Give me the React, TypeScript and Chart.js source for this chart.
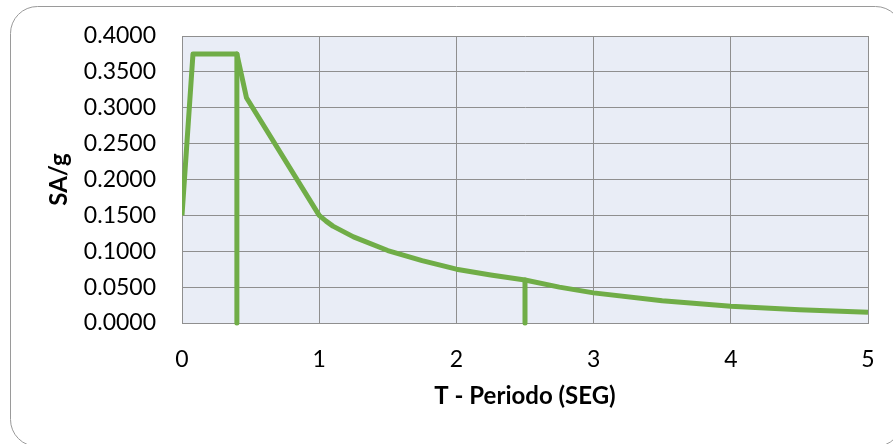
import { useEffect, useRef } from "react";
import { Chart, registerables } from "chart.js";

Chart.register(...registerables);

// Elastic design spectrum: period T (s) vs spectral acceleration SA/g
const periods = [0, 0.08, 0.4, 0.47, 1.0, 1.05, 1.1, 1.25, 1.5, 1.75, 2.0, 2.25, 2.5, 2.75, 3.0, 3.5, 4.0, 4.5, 5.0];
const saValues = [0.15, 0.375, 0.375, 0.314, 0.15, 0.142, 0.135, 0.12, 0.101, 0.087, 0.075, 0.067, 0.06, 0.05, 0.042, 0.031, 0.0235, 0.0185, 0.015];

// Vertical markers at the corner periods Tc and TL
const tcMarkerT = [0.4, 0.4];
const tcMarkerSa = [0, 0.375];
const tlMarkerT = [2.5, 2.5];
const tlMarkerSa = [0, 0.06];

// Axis ranges and tick steps
const xRange = [0, 5];
const xStep = 1;
const yRange = [0, 0.4];
const yStep = 0.05;

const xTitle = "T - Periodo (SEG)";
const yTitle = "SA/g";

const GREEN = "#70AD47";
const GRID = "#8f8f8f";
const FONT = "Lato";

const toPoints = (xs: number[], ys: number[]) => xs.map((x, i) => ({ x, y: ys[i] }));

const framePlugin = {
  id: "frame",
  beforeDraw(chart: Chart) {
    const { ctx, chartArea } = chart;
    ctx.save();
    ctx.fillStyle = "#ffffff";
    ctx.fillRect(0, 0, chart.width, chart.height);
    ctx.beginPath();
    (ctx as any).roundRect(10.5, 6.5, 892, 440, 27);
    ctx.strokeStyle = "#9a9a9a";
    ctx.lineWidth = 1;
    ctx.stroke();
    ctx.fillStyle = "#E9EDF6";
    ctx.fillRect(chartArea.left, chartArea.top, chartArea.right - chartArea.left, chartArea.bottom - chartArea.top);
    ctx.restore();
  },
};

export default function App() {
  const canvasRef = useRef<HTMLCanvasElement | null>(null);

  useEffect(() => {
    const canvas = canvasRef.current;
    if (!canvas) return;
    const chart = new Chart(canvas, {
      type: "scatter",
      data: {
        datasets: [
          {
            data: toPoints(periods, saValues),
            showLine: true,
            borderColor: GREEN,
            borderWidth: 5,
            pointRadius: 0,
            borderJoinStyle: "round",
          },
          {
            data: toPoints(tcMarkerT, tcMarkerSa),
            showLine: true,
            borderColor: GREEN,
            borderWidth: 5,
            pointRadius: 0,
            borderCapStyle: "round",
            clip: false,
          },
          {
            data: toPoints(tlMarkerT, tlMarkerSa),
            showLine: true,
            borderColor: GREEN,
            borderWidth: 5,
            pointRadius: 0,
            borderCapStyle: "round",
            clip: false,
          },
        ],
      },
      options: {
        animation: false,
        responsive: false,
        events: [],
        layout: { padding: { left: 10, top: 36, right: 25, bottom: 0 } },
        plugins: { legend: { display: false }, tooltip: { enabled: false } },
        scales: {
          x: {
            type: "linear",
            min: xRange[0],
            max: xRange[1],
            afterFit: (s: any) => {
              s.height = 121;
            },
            ticks: {
              stepSize: xStep,
              color: "#000",
              padding: 2,
              font: { family: FONT, size: 23 },
              callback: (v: any) => String(Number(v)),
            },
            grid: { color: GRID, lineWidth: 1, drawTicks: true, tickLength: 21, tickColor: "rgba(0,0,0,0)" },
            border: { display: true, color: GRID, width: 1 },
            title: {
              display: true,
              text: xTitle,
              color: "#000",
              font: { family: FONT, size: 24, weight: "bold" },
              padding: { top: 0, bottom: 33 },
            },
          },
          y: {
            type: "linear",
            min: yRange[0],
            max: yRange[1],
            afterFit: (s: any) => {
              s.width = 172;
            },
            ticks: {
              stepSize: yStep,
              autoSkip: false,
              color: "#000",
              padding: 2,
              font: { family: FONT, size: 23 },
              callback: (v: any) => Number(v).toFixed(4),
            },
            grid: { color: GRID, lineWidth: 1, drawTicks: true, tickLength: 24, tickColor: "rgba(0,0,0,0)" },
            border: { display: true, color: GRID, width: 1 },
            title: {
              display: true,
              text: yTitle,
              color: "#000",
              font: { family: FONT, size: 24, weight: "bold" },
              padding: { top: 35, bottom: 0 },
            },
          },
        },
      },
      plugins: [framePlugin],
    });
    return () => chart.destroy();
  }, []);

  return (
    <div style={{ position: "fixed", left: 0, top: 0, width: 893, height: 444, background: "#fff" }}>
      <canvas ref={canvasRef} width={893} height={444} />
    </div>
  );
}
